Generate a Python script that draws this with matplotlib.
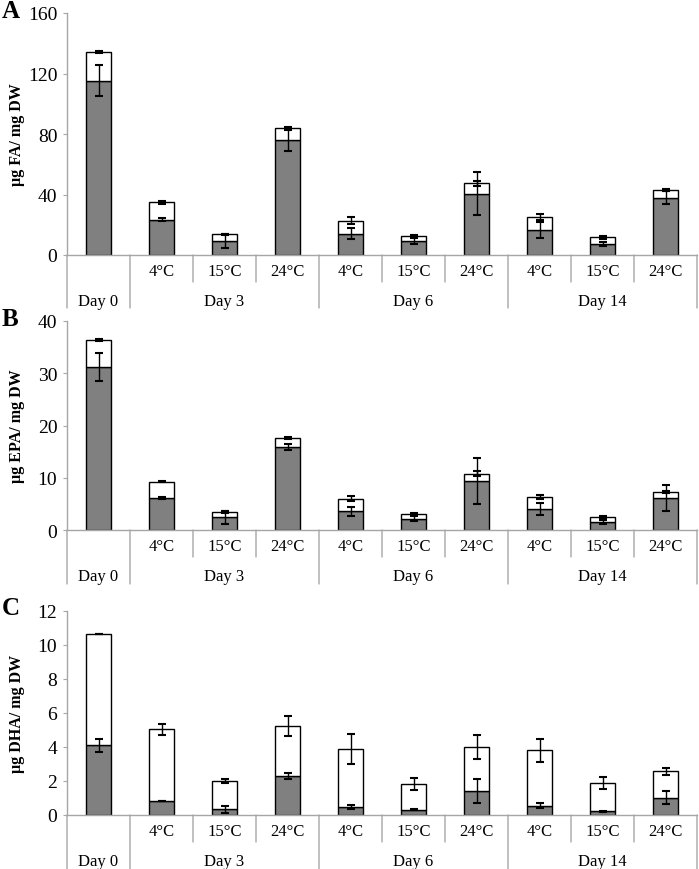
import matplotlib
matplotlib.use("Agg")
from matplotlib import pyplot as plt
from matplotlib.transforms import ScaledTranslation

plt.rcParams['font.family'] = ['Liberation Serif', 'DejaVu Serif']

temps = ['', '4°C', '15°C', '24°C', '4°C', '15°C', '24°C', '4°C', '15°C', '24°C']
days = ['Day 0', 'Day 3', 'Day 6', 'Day 14']
day_spans = [(0, 1), (1, 4), (4, 7), (7, 10)]

# panel A - total fatty acids
fa_gray = [115.3, 23.3, 9.2, 76.1, 14.1, 9.2, 40.5, 16.7, 7.3, 37.9]
fa_gray_err = [10.0, 1.0, 4.8, 7.5, 3.5, 1.9, 14.3, 5.3, 1.3, 4.3]
fa_total = [134.2, 34.8, 13.6, 83.8, 22.7, 12.8, 47.3, 25.1, 11.7, 42.9]
fa_total_err = [0.5, 1.0, 0.5, 1.0, 2.1, 0.5, 1.5, 1.8, 0.8, 0.8]

# panel B - EPA
epa_gray = [31.2, 6.1, 2.4, 15.9, 3.56, 2.17, 9.3, 4.1, 1.5, 6.1]
epa_gray_err = [2.6, 0.15, 1.2, 0.6, 0.8, 0.5, 4.4, 1.15, 0.4, 2.5]
epa_total = [36.4, 9.25, 3.45, 17.6, 6.0, 3.06, 10.8, 6.3, 2.55, 7.35]
epa_total_err = [0.2, 0.15, 0.15, 0.2, 0.5, 0.15, 0.45, 0.45, 0.2, 0.2]

# panel C - DHA
dha_gray = [4.09, 0.83, 0.33, 2.3, 0.49, 0.3, 1.4, 0.55, 0.22, 1.02]
dha_gray_err = [0.39, 0.02, 0.2, 0.2, 0.12, 0.03, 0.72, 0.15, 0.03, 0.4]
dha_total = [10.65, 5.04, 2.0, 5.25, 3.87, 1.83, 4.0, 3.8, 1.9, 2.56]
dha_total_err = [0.01, 0.31, 0.13, 0.59, 0.87, 0.37, 0.71, 0.68, 0.35, 0.2]

W, H = 699, 870
fig = plt.figure(figsize=(W / 100, H / 100), dpi=100)

axis_grey = '#a6a6a6'
bar_grey = '#808080'


def panel(top_px, bottom_px, letter, ylabel, ymax, ystep, gray, gray_err, total, total_err, day_len):
    ax = fig.add_axes([67 / W, (H - bottom_px) / H, 630 / W, (bottom_px - top_px) / H])
    x = [i + 0.5 for i in range(len(temps))]
    white = [t - g for t, g in zip(total, gray)]
    ax.bar(x, gray, width=0.4, color=bar_grey, edgecolor='black', linewidth=1, zorder=2)
    ax.bar(x, white, bottom=gray, width=0.4, color='white', edgecolor='black', linewidth=1, zorder=2)
    ax.errorbar(x, gray, yerr=gray_err, fmt='none', ecolor='black', elinewidth=1, capsize=3, capthick=1.5, zorder=3)
    ax.errorbar(x, total, yerr=total_err, fmt='none', ecolor='black', elinewidth=1, capsize=3, capthick=1.5, zorder=3)

    ax.set_xlim(0, 10)
    ax.set_ylim(0, ymax)
    ax.set_yticks(range(0, ymax + 1, ystep))
    ax.set_xticks([])
    for s in ['top', 'right']:
        ax.spines[s].set_visible(False)
    for s in ['left', 'bottom']:
        ax.spines[s].set_color(axis_grey)
        ax.spines[s].set_linewidth(1)
    ax.tick_params(axis='y', direction='out', length=3, color=axis_grey, labelsize=14, pad=4)

    # two-level category labels under the axis
    trans = ax.get_xaxis_transform()

    def below(px):
        return trans + ScaledTranslation(0, -px / 100, fig.dpi_scale_trans)

    for xi, t in zip(x, temps):
        ax.text(xi, 0, t, transform=below(16), ha='center', va='center', fontsize=12)
    for d, (a, b) in zip(days, day_spans):
        ax.text((a + b) / 2, 0, d, transform=below(46), ha='center', va='center', fontsize=12)
    day_edges = {0, 1, 4, 7, 10}
    for e in range(11):
        ln = day_len if e in day_edges else 27
        ax.annotate('', xy=(e, 0), xycoords=trans, xytext=(e, 0), textcoords=below(ln),
                    arrowprops=dict(arrowstyle='-', color=axis_grey, lw=1, shrinkA=0, shrinkB=0),
                    annotation_clip=False)

    fig.text(2 / W, 1 - (top_px - 3) / H, letter, fontsize=18, fontweight='bold', ha='left', va='center')
    fig.text(17 / W, 1 - (top_px + bottom_px) / 2 / H, ylabel, rotation=90, fontsize=11.5,
             fontweight='bold', ha='center', va='center')
    return ax


panel(14, 256, 'A', 'µg FA/ mg DW', 160, 40, fa_gray, fa_gray_err, fa_total, fa_total_err, 53)
panel(322, 531, 'B', 'µg EPA/ mg DW', 40, 10, epa_gray, epa_gray_err, epa_total, epa_total_err, 54)
panel(612, 816, 'C', 'µg DHA/ mg DW', 12, 2, dha_gray, dha_gray_err, dha_total, dha_total_err, 54)

fig.savefig('out.png', dpi=100)
